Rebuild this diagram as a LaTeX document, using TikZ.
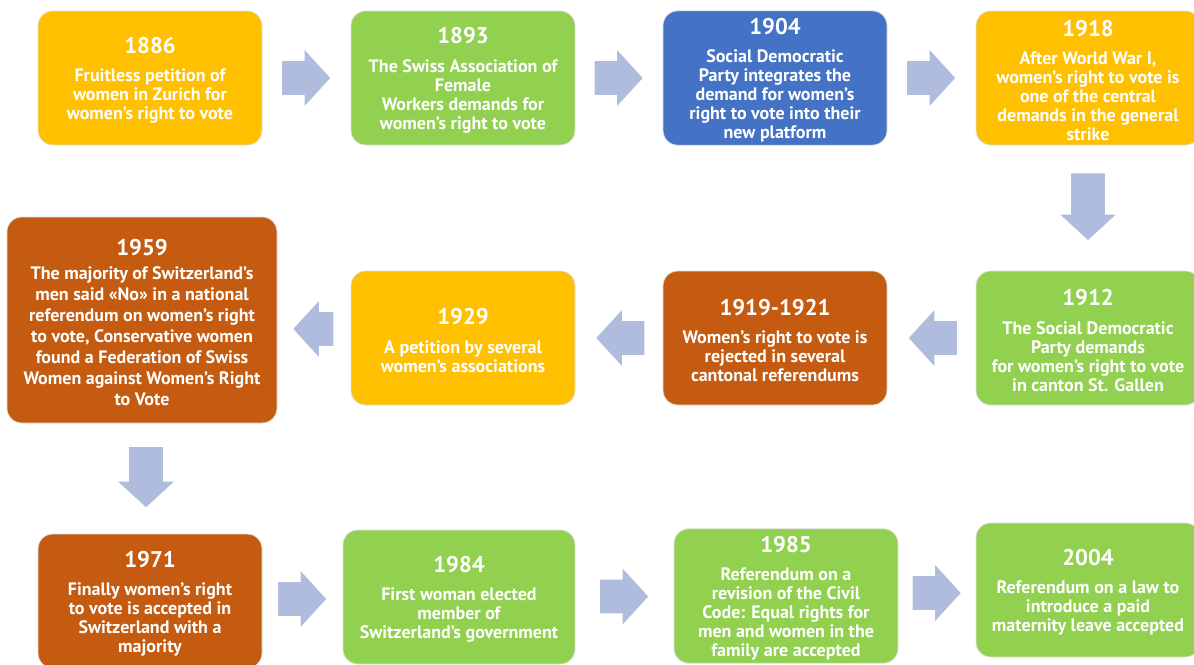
\documentclass[tikz,border=0pt]{standalone}
\usepackage{fontspec}
\setmainfont{PT Sans}
\usetikzlibrary{shapes.arrows,calc,positioning}
\definecolor{cyel}{HTML}{FFC000}
\definecolor{cgrn}{HTML}{92D050}
\definecolor{cblu}{HTML}{4472C4}
\definecolor{cbrn}{HTML}{C55A11}
\definecolor{carr}{RGB}{176,188,222}
\newcommand\yr[1]{{\fontsize{17}{17}\selectfont\rule{0pt}{15.8pt}#1}}

\tikzset{
  event/.style={draw=black!12, line width=0.6pt, rounded corners=11pt,
    text=white, align=center, inner sep=2pt,
    font=\bfseries\fontsize{13.5}{14.25}\selectfont,
    minimum width=168pt, minimum height=100.5pt},
  blockarrow/.style={single arrow, fill=carr, draw=none,
    inner xsep=0pt, inner ysep=12.4pt, minimum width=41.25pt,
    single arrow head extend=8.25pt, single arrow tip angle=95,
    minimum height=36pt},
  rarrow/.style={blockarrow},
  larrow/.style={blockarrow,rotate=180},
  darrow/.style={blockarrow,rotate=-90},
}

\begin{document}
\begin{tikzpicture}[x=0.75pt,y=-0.75pt]
\useasboundingbox (0,0) rectangle (1194,664);
\clip (0,0) rectangle (1194,664);
% ===================== row 1 =====================
\node[event,fill=cyel] (y1886) at (150,78)
  {\yr{1886}\\[7pt]Fruitless petition of\\women in Zurich for\\women's right to vote};
\node[event,fill=cgrn] (g1893) at (463,78)
  {\yr{1893}\\[7pt]The Swiss Association of\\Female\\Workers demands for\\women's right to vote};
\node[event,fill=cblu] (b1904) at (775,78)
  {\yr{1904}\\[7pt]Social Democratic\\Party integrates the\\demand for women's\\right to vote into their\\new platform};
\node[event,fill=cyel] (y1918) at (1088,78)
  {\yr{1918}\\[7pt]After World War I,\\women's right to vote is\\one of the central\\demands in the general\\strike};
% ===================== row 2 =====================
\node[event,fill=cgrn] (g1912) at (1088,338)
  {\yr{1912}\\[7pt]The Social Democratic\\Party demands\\for women's right to vote\\in canton St. Gallen};
\node[event,fill=cbrn] (r1919) at (775,338)
  {\yr{1919-1921}\\[7pt]Women's right to vote is\\rejected in several\\cantonal referendums};
\node[event,fill=cyel] (y1929) at (463,338)
  {\yr{1929}\\[7pt]A petition by several\\women's associations};
\node[event,fill=cbrn,minimum width=202.5pt,minimum height=154.5pt,
  font=\bfseries\fontsize{13.5}{15.75}\selectfont] (r1959) at (142,320)
  {\yr{1959}\\[2pt]The majority of Switzerland's\\men said «No» in a national\\referendum on women's right\\to vote, Conservative women\\found a Federation of Swiss\\Women against Women's Right\\to Vote};
% ===================== row 3 =====================
\node[event,fill=cbrn] (r1971) at (150,601)
  {\yr{1971}\\[7pt]Finally women's right\\to vote is accepted in\\Switzerland with a\\majority};
\node[event,fill=cgrn,minimum width=174pt] (g1984) at (459,597)
  {\yr{1984}\\[7pt]First woman elected\\member of\\Switzerland's government};
\node[event,fill=cgrn] (g1985) at (786,596)
  {\yr{1985}\\[7pt]Referendum on a\\revision of the Civil\\Code: Equal rights for\\men and women in the\\family are accepted};
\node[event,fill=cgrn] (g2004) at (1088,590)
  {\yr{2004}\\[7pt]Referendum on a law to\\introduce a paid\\maternity leave accepted};
% ===================== block arrows =====================
\node[rarrow] (a1) at ($(y1886.east)!0.5!(g1893.west)+(-8,0)$) {};
\node[rarrow] (a2) at ($(g1893.east)!0.5!(b1904.west)+(-8,0)$) {};
\node[rarrow] (a3) at ($(b1904.east)!0.5!(y1918.west)+(-8,0)$) {};
\node[darrow,minimum height=50pt] (a4) at ($(y1918.south)!0.5!(g1912.north)+(0,-9)$) {};
\node[larrow] (a5) at ($(g1912.west)!0.5!(r1919.east)+(9,0)$) {};
\node[larrow] (a6) at ($(r1919.west)!0.5!(y1929.east)+(9,0)$) {};
\node[larrow,minimum height=30pt] (a7) at ($(y1929.west)!0.5!(r1959.east)+(7,0)$) {};
\node[darrow,minimum height=45pt] (a8) at ($(r1959.south)!0.5!(r1971.north)+(0,-9)$) {};
\node[rarrow] (a9) at ($(r1971.east)!0.5!(g1984.west)+(-8,0)$) {};
\node[rarrow] (a10) at ($(g1984.east)!0.5!(g1985.west)+(-8,0)$) {};
\node[rarrow] (a11) at ($(g1985.east)!0.5!(g2004.west)+(-8,0)$) {};
\end{tikzpicture}
\end{document}
